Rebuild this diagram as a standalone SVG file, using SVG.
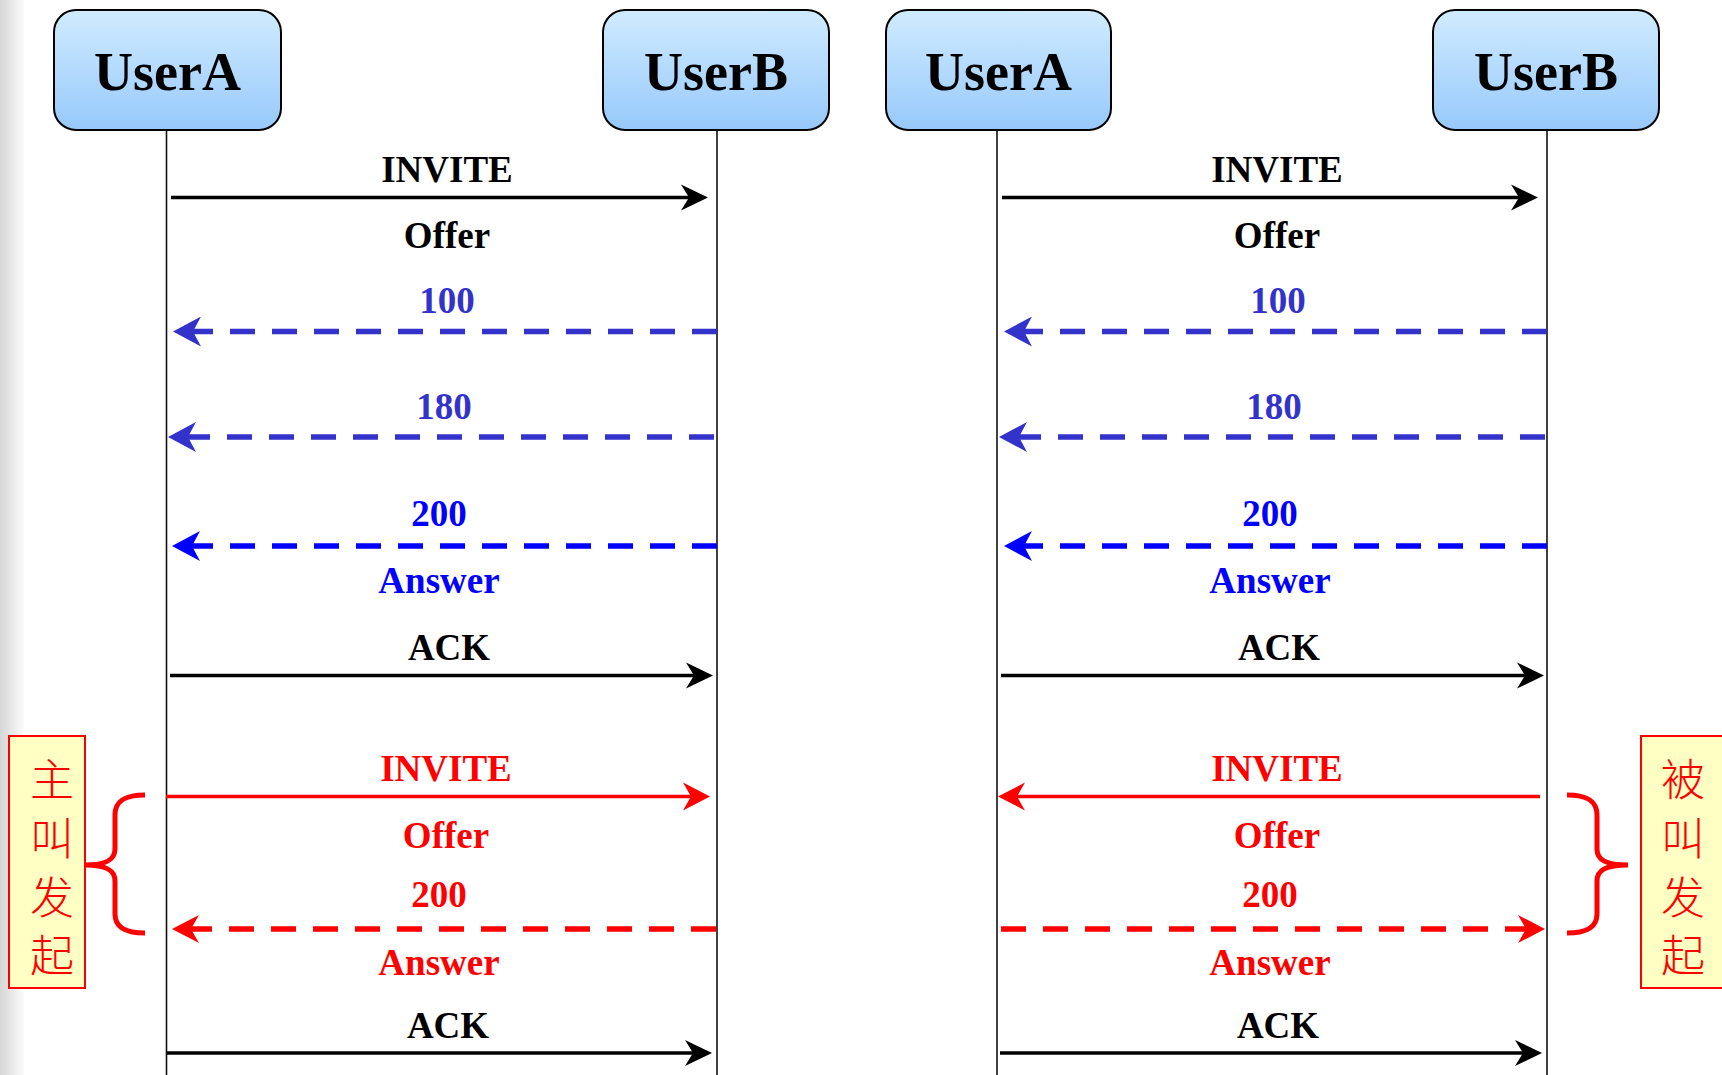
<svg xmlns="http://www.w3.org/2000/svg" width="1722" height="1075" viewBox="0 0 1722 1075">
<defs>
<linearGradient id="boxg" x1="0" y1="0" x2="0" y2="1">
<stop offset="0" stop-color="#d0ebff"/>
<stop offset="1" stop-color="#97c9fb"/>
</linearGradient>
<linearGradient id="edge" x1="0" y1="0" x2="1" y2="0">
<stop offset="0" stop-color="#d6d6d6"/>
<stop offset="1" stop-color="#ffffff"/>
</linearGradient>
<marker id="mk" markerUnits="userSpaceOnUse" viewBox="-20 -15 30 30" refX="0" refY="0" markerWidth="30" markerHeight="30" orient="auto"><path d="M8,0 L-19,-13 L-11,0 L-19,13 Z" fill="#000"/></marker>
<marker id="mb1" markerUnits="userSpaceOnUse" viewBox="-20 -15 30 30" refX="0" refY="0" markerWidth="30" markerHeight="30" orient="auto"><path d="M8,0 L-20,-15 L-12,0 L-20,15 Z" fill="#3333cc"/></marker>
<marker id="mb2" markerUnits="userSpaceOnUse" viewBox="-20 -15 30 30" refX="0" refY="0" markerWidth="30" markerHeight="30" orient="auto"><path d="M8,0 L-20,-15 L-12,0 L-20,15 Z" fill="#0000ff"/></marker>
<marker id="mr" markerUnits="userSpaceOnUse" viewBox="-20 -15 30 30" refX="0" refY="0" markerWidth="30" markerHeight="30" orient="auto"><path d="M8,0 L-19,-14 L-11,0 L-19,14 Z" fill="#ff0000"/></marker>
</defs>
<style>
.box{fill:url(#boxg);stroke:#000;stroke-width:2}
.ttl{font-family:"Liberation Serif","Times New Roman",serif;font-weight:bold;font-size:54px;text-anchor:middle;fill:#000}
.lbl{font-family:"Liberation Serif","Times New Roman",serif;font-weight:bold;font-size:37px;text-anchor:middle}
.life{stroke:#111;stroke-width:1.6;fill:none}
.k{fill:#000}.b1{fill:#3333cc}.b2{fill:#0000ff}.r{fill:#ff0000}
.ak{stroke:#000;stroke-width:3.4;fill:none;marker-end:url(#mk)}
.ar{stroke:#ff0000;stroke-width:3.6;fill:none;marker-end:url(#mr)}
.db1{stroke:#3333cc;stroke-width:5.5;stroke-dasharray:25 17;fill:none;marker-end:url(#mb1)}
.db2{stroke:#0000ff;stroke-width:5.5;stroke-dasharray:25 17;fill:none;marker-end:url(#mb2)}
.dr{stroke:#ff0000;stroke-width:5.5;stroke-dasharray:25 17;fill:none;marker-end:url(#mr)}
.note{fill:#ffffc4;stroke:#ff0000;stroke-width:2}
.cjk{font-family:"Noto Sans CJK SC","Noto Sans CJK JP",sans-serif;font-size:44px;font-weight:300;fill:#ff0000;text-anchor:middle;dominant-baseline:central}
.brace{stroke:#ff0000;stroke-width:5;fill:none}
</style>
<rect x="0" y="0" width="1722" height="1075" fill="#ffffff"/>
<rect x="0" y="0" width="26" height="1075" fill="url(#edge)"/>

<g id="lifelines">
<line class="life" x1="166.5" y1="130" x2="166.5" y2="1075"/>
<line class="life" x1="717" y1="130" x2="717" y2="1075"/>
<line class="life" x1="997" y1="130" x2="997" y2="1075"/>
<line class="life" x1="1547" y1="130" x2="1547" y2="1075"/>
</g>

<g id="userA-left"><rect class="box" x="54" y="10" width="227" height="120" rx="22"/><text class="ttl" x="167.5" y="90">UserA</text></g>
<g id="userB-left"><rect class="box" x="603" y="10" width="226" height="120" rx="22"/><text class="ttl" x="716" y="90">UserB</text></g>
<g id="userA-right"><rect class="box" x="886" y="10" width="225" height="120" rx="22"/><text class="ttl" x="998.5" y="90">UserA</text></g>
<g id="userB-right"><rect class="box" x="1433" y="10" width="226" height="120" rx="22"/><text class="ttl" x="1546" y="90">UserB</text></g>

<g id="note-left"><rect class="note" x="9" y="736" width="76" height="252"/>
<text class="cjk" x="52" y="777">主</text><text class="cjk" x="52" y="836">叫</text><text class="cjk" x="52" y="895">发</text><text class="cjk" x="52" y="953">起</text></g>
<g id="note-right"><rect class="note" x="1641" y="736" width="90" height="252"/>
<text class="cjk" x="1683" y="777">被</text><text class="cjk" x="1683" y="836">叫</text><text class="cjk" x="1683" y="895">发</text><text class="cjk" x="1683" y="953">起</text></g>

<g id="braces">
<path class="brace" d="M145,795 C126,795 115,800 115,815 L115,849 C115,860 106,865 85,865 C106,865 115,870 115,881 L115,914 C115,928 126,933 145,933"/>
<path class="brace" d="M1567,795 C1586,795 1597,800 1597,815 L1597,849 C1597,860 1606,865 1628,865 C1606,865 1597,870 1597,881 L1597,914 C1597,928 1586,933 1567,933"/>
</g>

<g id="connectors">
<line class="ak" x1="171" y1="197.5" x2="700" y2="197.5"/>
<line class="db1" x1="717" y1="331.5" x2="181" y2="331.5"/>
<line class="db1" x1="714" y1="437" x2="176" y2="437"/>
<line class="db2" x1="717" y1="546" x2="180" y2="546"/>
<line class="ak" x1="170" y1="675.5" x2="705" y2="675.5"/>
<line class="ar" x1="166" y1="796.5" x2="702" y2="796.5"/>
<line class="dr" x1="716" y1="929" x2="180" y2="929"/>
<line class="ak" x1="167" y1="1053" x2="704" y2="1053"/>

<line class="ak" x1="1002" y1="197.5" x2="1530" y2="197.5"/>
<line class="db1" x1="1547" y1="331.5" x2="1012" y2="331.5"/>
<line class="db1" x1="1545" y1="437" x2="1007" y2="437"/>
<line class="db2" x1="1547" y1="546" x2="1012" y2="546"/>
<line class="ak" x1="1001" y1="675.5" x2="1536" y2="675.5"/>
<line class="ar" x1="1540" y1="796.5" x2="1006" y2="796.5"/>
<line class="dr" x1="1001" y1="929" x2="1537" y2="929"/>
<line class="ak" x1="1000" y1="1053" x2="1534" y2="1053"/>
</g>

<g id="labels">
<text class="lbl k" x="447" y="182">INVITE</text>
<text class="lbl k" x="447" y="248">Offer</text>
<text class="lbl b1" x="447" y="313">100</text>
<text class="lbl b1" x="444" y="419">180</text>
<text class="lbl b2" x="439" y="526">200</text>
<text class="lbl b2" x="439" y="593">Answer</text>
<text class="lbl k" x="449" y="660">ACK</text>
<text class="lbl r" x="446" y="781">INVITE</text>
<text class="lbl r" x="446" y="848">Offer</text>
<text class="lbl r" x="439" y="907">200</text>
<text class="lbl r" x="439" y="975">Answer</text>
<text class="lbl k" x="448" y="1038">ACK</text>

<text class="lbl k" x="1277" y="182">INVITE</text>
<text class="lbl k" x="1277" y="248">Offer</text>
<text class="lbl b1" x="1278" y="313">100</text>
<text class="lbl b1" x="1274" y="419">180</text>
<text class="lbl b2" x="1270" y="526">200</text>
<text class="lbl b2" x="1270" y="593">Answer</text>
<text class="lbl k" x="1279" y="660">ACK</text>
<text class="lbl r" x="1277" y="781">INVITE</text>
<text class="lbl r" x="1277" y="848">Offer</text>
<text class="lbl r" x="1270" y="907">200</text>
<text class="lbl r" x="1270" y="975">Answer</text>
<text class="lbl k" x="1278" y="1038">ACK</text>
</g>
</svg>
